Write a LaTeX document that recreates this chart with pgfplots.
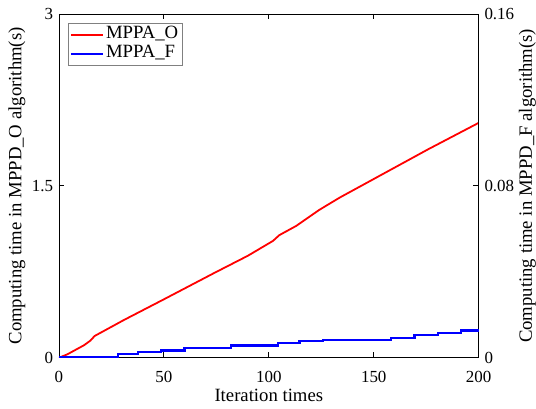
\documentclass[border=0pt]{standalone}
\usepackage{fontspec}
\setmainfont{Liberation Serif}
\usepackage{pgfplots}
\pgfplotsset{compat=1.18}
\begin{document}
\fontsize{17}{19}\selectfont
\begin{tikzpicture}
\pgfplotsset{
  every axis/.append style={
    scale only axis, width=420bp, height=344bp,
    xmin=0, xmax=200,
    tick align=inside, major tick length=5.5bp,
    /pgf/number format/assume math mode=true,
    tick label style={font=\fontsize{17}{19}\selectfont},
    label style={font=\fontsize{18.8}{20}\selectfont},
    axis line style={line width=0.8pt},
    every tick/.style={line width=0.8pt, black},
  },
  legend image code/.code={\draw[#1] (0bp,0bp) -- (32bp,0bp);}
}
\begin{axis}[
  name=ax,
  ymin=0, ymax=3,
  xtick={0,50,100,150,200}, ytick={0,1.5,3},
  ytick pos=left,
  xticklabel style={yshift=-8bp},
  xlabel={Iteration times},
  ylabel={Computing time in MPPD\_O algorithm(s)},
  xlabel style={yshift=5bp},
  ylabel style={yshift=-5bp},
  legend style={at={(0.0214,0.974)}, anchor=north west, draw=gray, line width=0.6pt,
    font=\fontsize{18.8}{20}\selectfont, cells={anchor=west},
    nodes={text height=13bp, text depth=5bp, inner ysep=0.5bp, inner xsep=2bp},
    inner xsep=2bp, inner ysep=2bp, row sep=0pt},
]
\addplot[red, line width=1.8bp] coordinates {
(0,0) (4,0.03) (8,0.07) (12,0.11) (15,0.15) (17,0.19) (20,0.22) (31,0.33)
(50,0.51) (74,0.74) (90,0.89) (102,1.02) (105,1.07) (113,1.15) (124,1.29)
(134,1.40) (150,1.56) (173,1.79) (176,1.82) (200,2.05)
};
\addlegendentry{MPPA\_O}
\addlegendimage{blue, line width=1.8bp}
\addlegendentry{MPPA\_F}
\end{axis}
\begin{axis}[
  ymin=0, ymax=0.16, clip=false,
  axis y line*=right, axis x line=none,
  ytick={0,0.08,0.16},
  yticklabel style={/pgf/number format/fixed, /pgf/number format/precision=2},
  ylabel={Computing time in MPPD\_F algorithm(s)},
  ylabel style={inner sep=0pt, yshift=1bp},
]
\addplot[blue, line width=2.1bp, const plot] coordinates {
(0,0.0003) (28,0.0017) (37.6,0.0025) (48.7,0.0034) (59.8,0.0045) (82,0.0057)
(104.3,0.0067) (114.6,0.0076) (125.7,0.0084) (158.3,0.0094) (169.4,0.0107)
(180.5,0.0116) (191.6,0.0127) (200,0.0127)
};
\end{axis}
\path (ax.south west) ++(-59bp,-51bp) coordinate (bl);
\path (ax.north east) ++(57bp,14bp) coordinate (tr);
\path (bl) rectangle (tr);
\end{tikzpicture}
\end{document}
